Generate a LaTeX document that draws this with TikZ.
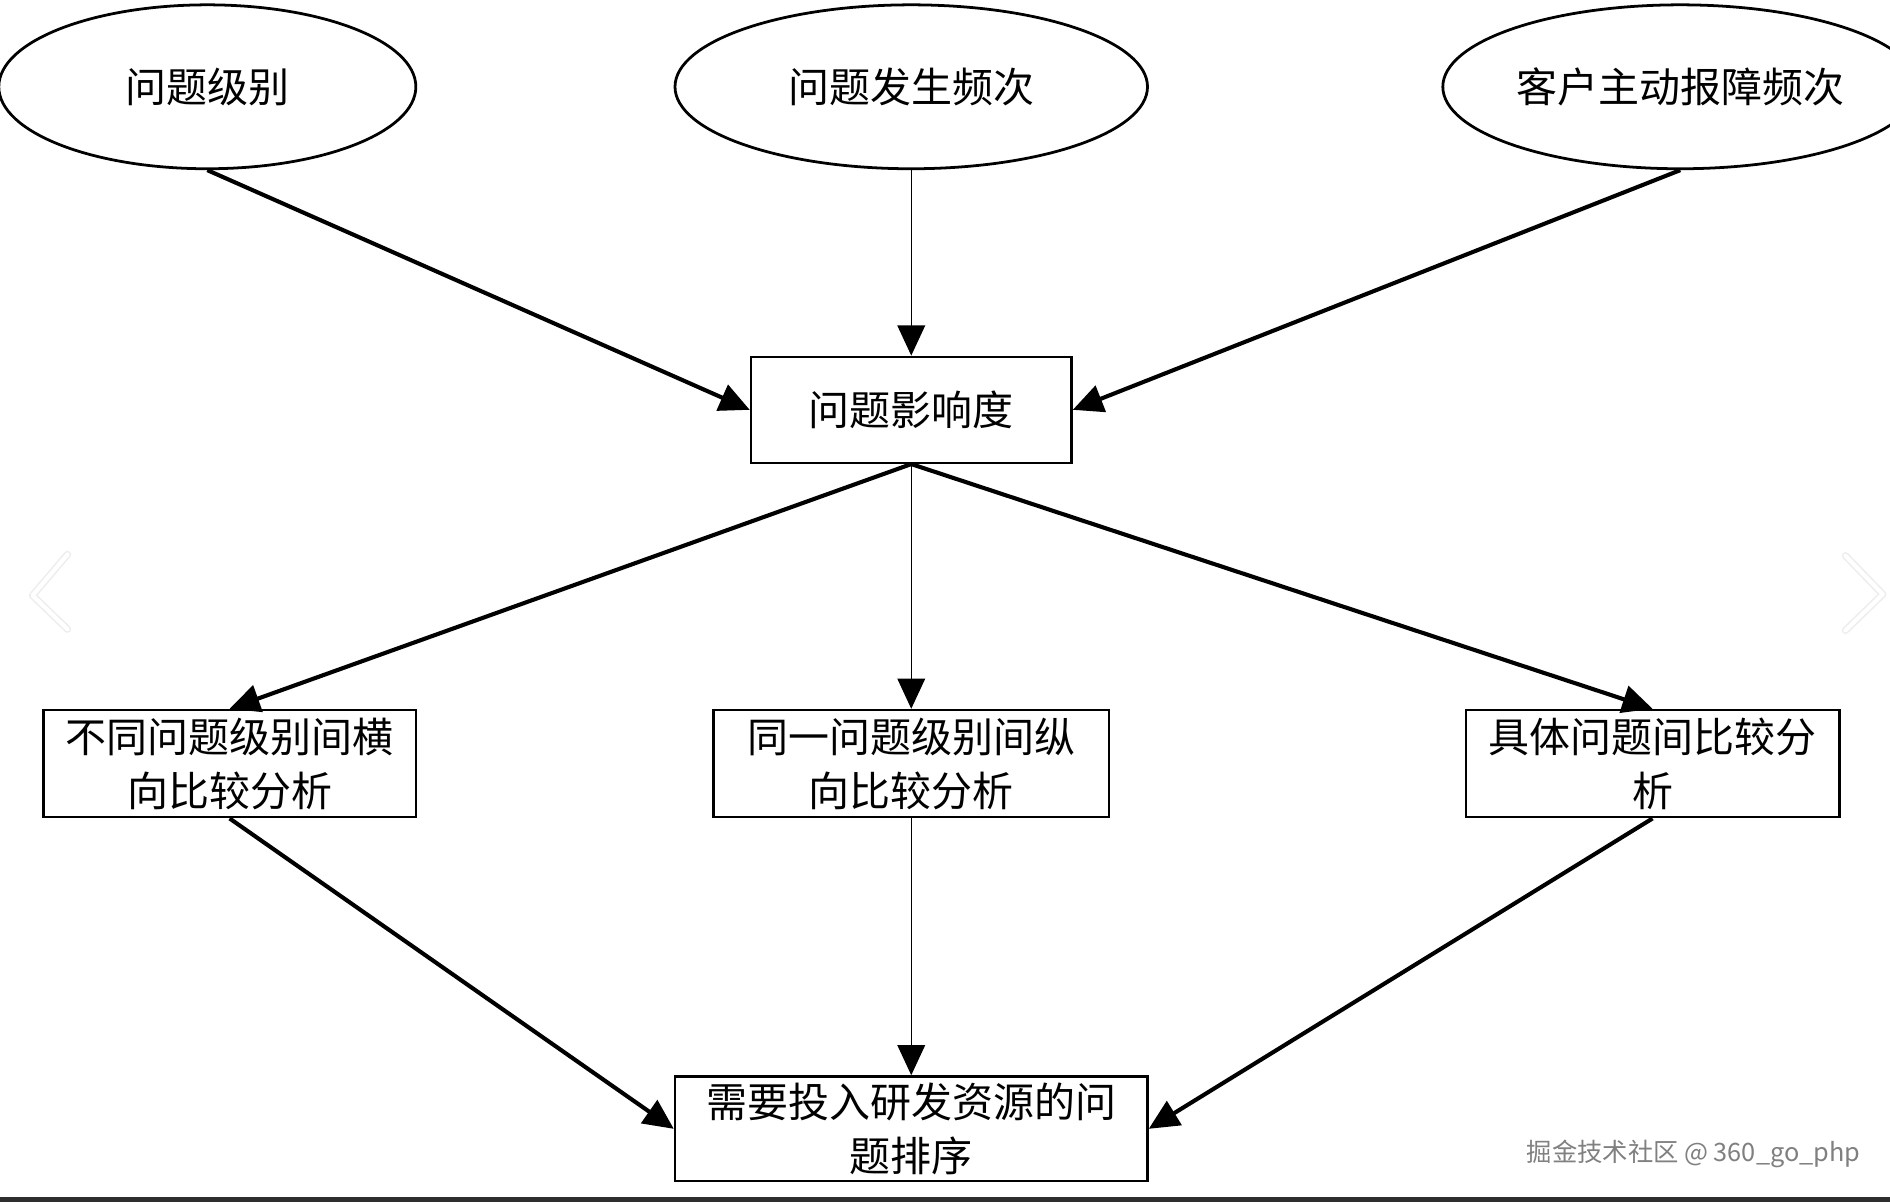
\documentclass[tikz,border=0pt]{standalone}
\usepackage{fontspec}
\setmainfont{Noto Sans CJK SC}
\usetikzlibrary{arrows.meta,shapes.geometric}
\definecolor{barcol}{HTML}{2E2E2E}
\begin{document}
\begin{tikzpicture}[x=1pt,y=-1pt,
  cjk/.style={font=\fontsize{34}{45}\selectfont},
  ell/.style={draw,line width=2.3pt,ellipse,inner sep=0pt,cjk},
  box/.style={draw,line width=2pt,rectangle,inner sep=0pt,align=center,cjk},
  thickarrow/.style={line width=3.4pt,-{Triangle[length=25pt,width=23pt]}},
  thinarrow/.style={line width=1pt,-{Triangle[length=25pt,width=23pt]}},
  chev/.style={line width=6pt,line cap=round,line join=round,black!7},
  chevin/.style={line width=3.5pt,line cap=round,line join=round,white}]
\useasboundingbox (0,0) rectangle (1568,997);
\clip (0,0) rectangle (1568,997);
\fill[white] (0,0) rectangle (1568,997);

% top ellipses
\node[ell,minimum width=346pt,minimum height=136pt] (e1) at (172,72) {问题级别};
\node[ell,minimum width=392pt,minimum height=136pt] (e2) at (756,72) {问题发生频次};
\node[ell,minimum width=394pt,minimum height=136pt] (e3) at (1394,72) {客户主动报障频次};

% middle box
\node[box,minimum width=266pt,minimum height=88pt] (mid) at (756,340) {问题影响度};

% analysis boxes
\node[box,minimum width=309pt,minimum height=89pt] (b1) at (190.5,633.5) {不同问题级别间横\\向比较分析};
\node[box,minimum width=328pt,minimum height=89pt] (b2) at (756,633.5) {同一问题级别间纵\\向比较分析};
\node[box,minimum width=310pt,minimum height=89pt] (b3) at (1371,633.5) {具体问题间比较分\\析};

% final box
\node[box,minimum width=392pt,minimum height=87pt] (fin) at (756,936.5) {需要投入研发资源的问\\题排序};

% connectors
\draw[thickarrow] (e1.south) -- (mid.west);
\draw[thinarrow] (e2.south) -- (mid.north);
\draw[thickarrow] (e3.south) -- (mid.east);

\draw[thickarrow] (mid.south) -- (b1.north);
\draw[thinarrow] (mid.south) -- (b2.north);
\draw[thickarrow] (mid.south) -- (b3.north);

\draw[thickarrow] (b1.south) -- (fin.west);
\draw[thinarrow] (b2.south) -- (fin.north);
\draw[thickarrow] (b3.south) -- (fin.east);

% faint carousel chevrons
\draw[chev] (56,460) -- (27,494) -- (56,522);
\draw[chevin] (56,460) -- (27,494) -- (56,522);
\draw[chev] (1531,461) -- (1562,493) -- (1531,523);
\draw[chevin] (1531,461) -- (1562,493) -- (1531,523);

% watermark
\node[font=\fontsize{21}{23}\selectfont,text=black!50,inner sep=0pt] (wm) at (1405,957) {掘金技术社区 @ 360\_go\_php};

% bottom bar
\fill[barcol] (0,993) rectangle (1568,997);
\end{tikzpicture}
\end{document}
